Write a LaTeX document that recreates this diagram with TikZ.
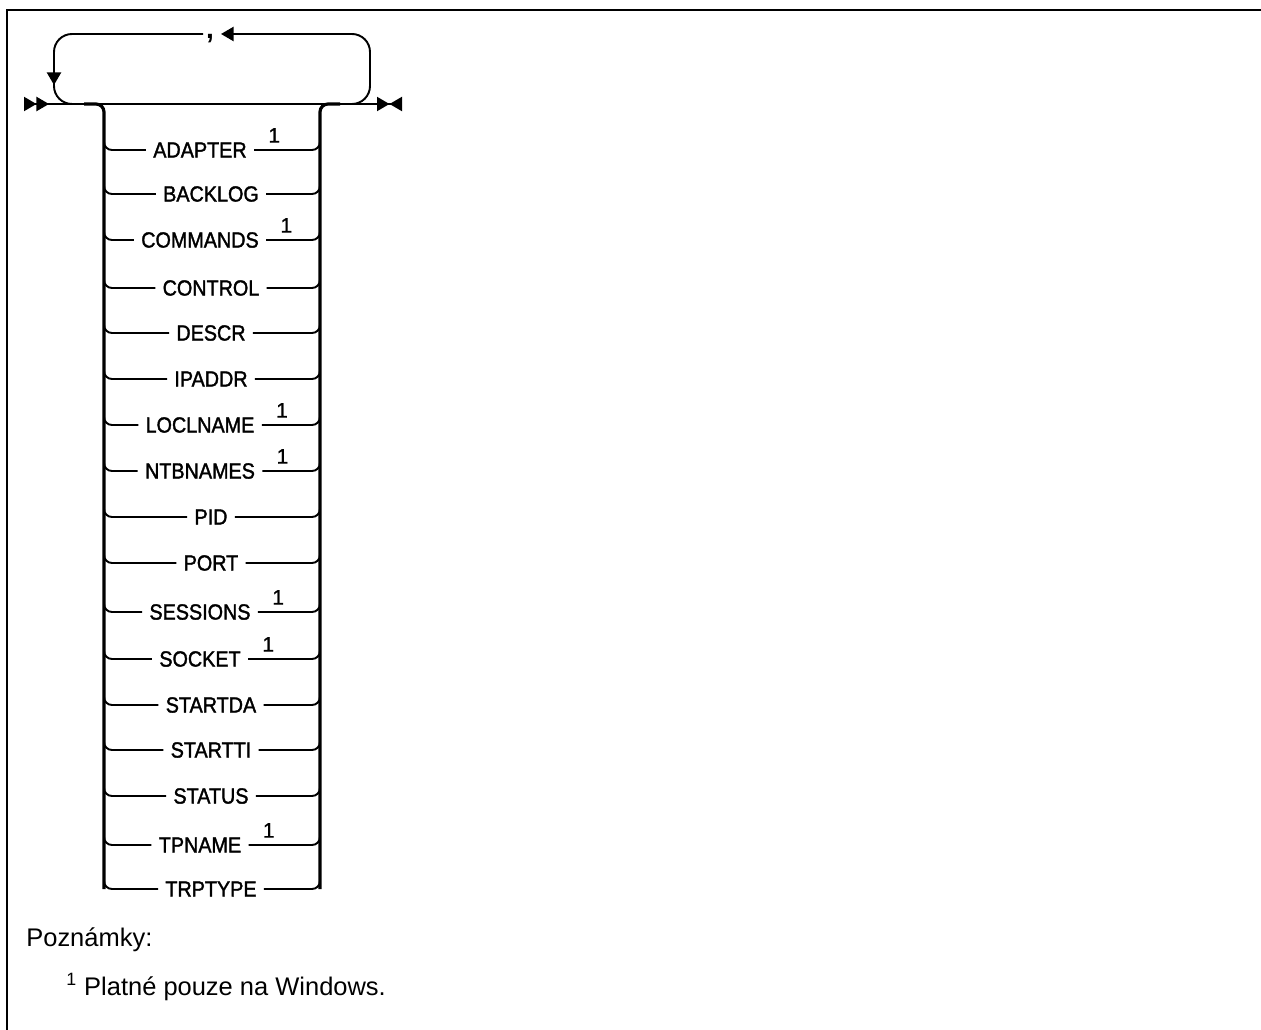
\documentclass[tikz,border=0pt]{standalone}
\usepackage{fontspec}
\setmainfont{Liberation Sans}
\newfontfamily\kolejfont[FakeStretch=0.9, FakeBold=1.6]{Liberation Sans}
\newfontfamily\indexfont[FakeBold=0.8]{Liberation Sans}
\usetikzlibrary{arrows.meta,positioning}

\begin{document}
\begin{tikzpicture}[x=0.02cm, y=-0.02cm,
  polozka/.style={font=\kolejfont\fontsize{12.5}{14}\selectfont, inner sep=4pt},
  indeks/.style={font=\indexfont\fontsize{12}{14}\selectfont, inner sep=0pt, anchor=south west},
  cara/.style={line width=1.1pt, rounded corners=0.16cm},
  kolej/.style={line width=1.8pt, rounded corners=0.16cm},
  smycka/.style={line width=1.1pt, rounded corners=0.36cm},
  hrot/.tip={Triangle[length=0.25cm, width=0.28cm]}
]
\useasboundingbox (0,0) rectangle (1261,1030);
\draw[line width=1.2pt] (7,1030) -- (7,10) -- (1261,10);

% hlavni cara
\coordinate (zacatek) at (24,104);
\coordinate (konec) at (402,104);
\draw[line width=1.1pt, {hrot[reversed]hrot[reversed]}-{hrot[]hrot[reversed]}] (zacatek) -- (konec);

% opakovani
\node[font=\fontsize{16}{18}\selectfont\bfseries, inner sep=0pt, anchor=base] (carka) at (210,39) {,};
\draw[smycka, -{hrot}] (340,104) -| (370,34) -- (221,34);
\draw[smycka] (203,34) -| (54,70);
\draw[line width=1.1pt, -{hrot}] (54,66) -- (54,85);
\draw[smycka] (54,80) |- (84,104);

% koleje
\draw[kolej] (84,104) -| (104,889);
\draw[kolej] (340,104) -| (320,889);

\node[polozka] (adapter) at (200,150) {ADAPTER};
\node[polozka] (backlog) at (211,194) {BACKLOG};
\node[polozka] (commands) at (200,240) {COMMANDS};
\node[polozka] (control) at (211,288) {CONTROL};
\node[polozka] (descr) at (211,333) {DESCR};
\node[polozka] (ipaddr) at (211,379) {IPADDR};
\node[polozka] (loclname) at (200,425) {LOCLNAME};
\node[polozka] (ntbnames) at (200,471) {NTBNAMES};
\node[polozka] (pid) at (211,517) {PID};
\node[polozka] (port) at (211,563) {PORT};
\node[polozka] (sessions) at (200,612) {SESSIONS};
\node[polozka] (socket) at (200,659) {SOCKET};
\node[polozka] (startda) at (211,705) {STARTDA};
\node[polozka] (startti) at (211,750) {STARTTI};
\node[polozka] (status) at (211,796) {STATUS};
\node[polozka] (tpname) at (200,845) {TPNAME};
\node[polozka] (trptype) at (211,889) {TRPTYPE};

\node[indeks] (adapter1) at ([xshift=0.28cm, yshift=0.14cm]adapter.east) {1};
\node[indeks] (commands1) at ([xshift=0.28cm, yshift=0.14cm]commands.east) {1};
\node[indeks] (loclname1) at ([xshift=0.28cm, yshift=0.14cm]loclname.east) {1};
\node[indeks] (ntbnames1) at ([xshift=0.28cm, yshift=0.14cm]ntbnames.east) {1};
\node[indeks] (sessions1) at ([xshift=0.28cm, yshift=0.14cm]sessions.east) {1};
\node[indeks] (socket1) at ([xshift=0.28cm, yshift=0.14cm]socket.east) {1};
\node[indeks] (tpname1) at ([xshift=0.28cm, yshift=0.14cm]tpname.east) {1};

\draw[cara] (104,134) |- (adapter.west);
\draw[cara] (adapter.east) -| (320,134);
\draw[cara] (104,178) |- (backlog.west);
\draw[cara] (backlog.east) -| (320,178);
\draw[cara] (104,224) |- (commands.west);
\draw[cara] (commands.east) -| (320,224);
\draw[cara] (104,272) |- (control.west);
\draw[cara] (control.east) -| (320,272);
\draw[cara] (104,317) |- (descr.west);
\draw[cara] (descr.east) -| (320,317);
\draw[cara] (104,363) |- (ipaddr.west);
\draw[cara] (ipaddr.east) -| (320,363);
\draw[cara] (104,409) |- (loclname.west);
\draw[cara] (loclname.east) -| (320,409);
\draw[cara] (104,455) |- (ntbnames.west);
\draw[cara] (ntbnames.east) -| (320,455);
\draw[cara] (104,501) |- (pid.west);
\draw[cara] (pid.east) -| (320,501);
\draw[cara] (104,547) |- (port.west);
\draw[cara] (port.east) -| (320,547);
\draw[cara] (104,596) |- (sessions.west);
\draw[cara] (sessions.east) -| (320,596);
\draw[cara] (104,643) |- (socket.west);
\draw[cara] (socket.east) -| (320,643);
\draw[cara] (104,689) |- (startda.west);
\draw[cara] (startda.east) -| (320,689);
\draw[cara] (104,734) |- (startti.west);
\draw[cara] (startti.east) -| (320,734);
\draw[cara] (104,780) |- (status.west);
\draw[cara] (status.east) -| (320,780);
\draw[cara] (104,829) |- (tpname.west);
\draw[cara] (tpname.east) -| (320,829);
\draw[cara] (104,873) |- (trptype.west);
\draw[cara] (trptype.east) -| (320,873);

% poznamky
\node[anchor=base west, inner sep=0pt, font=\fontsize{14.5}{17}\selectfont] (poznamky) at (26,946) {Poznámky:};
\node[anchor=base west, inner sep=0pt, font=\fontsize{14.5}{17}\selectfont] (pozn1) at (66,995) {\textsuperscript{1} Platné pouze na Windows.};
\end{tikzpicture}
\end{document}
